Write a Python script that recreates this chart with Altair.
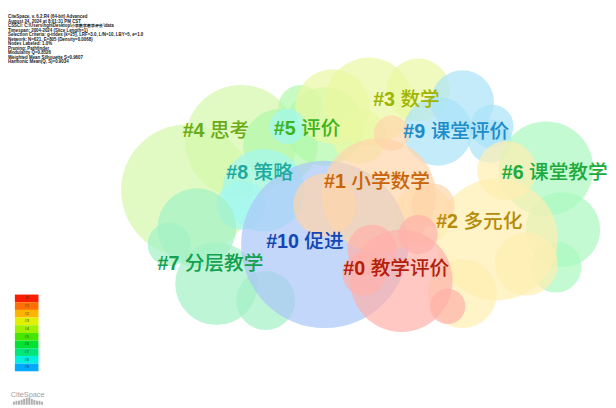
import altair as alt
import pandas as pd

# ---------------- data ----------------
cluster_ids = ["#0", "#1", "#2", "#3", "#4", "#5", "#6", "#7", "#8", "#9", "#10"]
cluster_names = ["教学评价", "小学数学", "多元化", "数学", "思考", "评价",
                 "课堂教学", "分层教学", "策略", "课堂评价", "促进"]
label_x = [370.7, 351, 465, 401, 207.3, 300, 531.7, 181.7, 251.7, 431.7, 303.3]
label_y = [270, 182, 222, 98, 130, 128, 173, 265, 173, 131, 243]

label_palette = ["#b41e0a", "#c8640a", "#b48c0a", "#a0b400", "#6aaa14", "#3cb41e",
                 "#1eaa3c", "#14a050", "#1eaaa0", "#1e8cc8", "#1446b4"]
fill_palette = ["#ffb0a9", "#ffd4a9", "#ffeeb0", "#eaf8a2", "#d4f8a9", "#b0f8a9",
                "#a9f8bf", "#a2f1c6", "#a2f8f1", "#a9e2f8", "#a9c6f8"]

# cloud blobs of each cluster (centre x, centre y, radius)
blob_cluster = ["#4", "#4",
                "#5", "#5", "#5",
                "#3", "#3", "#3", "#3",
                "#9", "#9", "#9", "#9",
                "#6", "#6", "#6",
                "#2", "#2", "#2", "#2", "#2",
                "#8", "#8", "#8",
                "#7", "#7", "#7", "#7",
                "#10",
                "#1", "#1", "#1", "#1",
                "#0", "#0", "#0", "#0", "#0"]
blob_x = [190, 245,
          285, 330, 305,
          375, 425, 338, 365,
          470, 445, 498, 500,
          555, 572, 565,
          505, 470, 430, 535, 515,
          268, 292, 245,
          220, 200, 172, 270,
          330,
          385, 330, 398, 440,
          408, 378, 425, 455, 370]
blob_y = [190, 140,
          145, 125, 105,
          100, 88, 105, 135,
          100, 130, 140, 125,
          168, 230, 268,
          240, 295, 215, 265, 170,
          190, 125, 205,
          285, 228, 245, 302,
          245,
          195, 205, 132, 205,
          282, 250, 235, 308, 275]
blob_r = [67, 57,
          38, 40, 22,
          45, 32, 38, 28,
          32, 35, 22, 22,
          48, 38, 26,
          62, 35, 30, 32, 30,
          42, 18, 25,
          42, 40, 22, 30,
          85,
          58, 32, 18, 22,
          52, 25, 20, 18, 22]

info_lines = [
    "CiteSpace, v. 6.2.R4 (64-bit) Advanced",
    "August 24, 2024 at 8:01:31 PM CST",
    r"CSSCI: C:\Users\hgh\Desktop\小学数学教学评价\data",
    "Timespan: 2004-2024 (Slice Length=1)",
    "Selection Criteria: g-index (k=25), LRF=3.0, L/N=10, LBY=5, e=1.0",
    "Network: N=621, E=805 (Density=0.0068)",
    "Nodes Labeled: 1.0%",
    "Pruning: Pathfinder",
    "Modularity Q=0.8526",
    "Weighted Mean Silhouette S=0.9607",
    "Harmonic Mean(Q, S)=0.9034",
]

legend_labels = ["#0", "#1", "#2", "#3", "#4", "#5", "#6", "#7", "#8", "#9"]
legend_palette = ["#fa1e00", "#ff6e00", "#ffb400", "#e0f000", "#a0f000",
                  "#46e600", "#00e132", "#00e678", "#00f0e0", "#00aaff"]

logo_bar_h = [1, 2, 2, 3, 4, 5, 5, 4, 3, 2, 2, 1]

# ---------------- chart ----------------
xs = alt.Scale(domain=[8, 616], nice=False, zero=False)
ys = alt.Scale(domain=[8, 408], nice=False, zero=False, reverse=True)
noax = None

blobs = pd.DataFrame({"cluster": blob_cluster, "x": blob_x, "y": blob_y, "r": blob_r})
blob_layer = alt.Chart(blobs).transform_calculate(
    s="4*datum.r*datum.r"
).mark_circle(opacity=0.7, strokeWidth=0).encode(
    x=alt.X("x:Q", scale=xs, axis=noax),
    y=alt.Y("y:Q", scale=ys, axis=noax),
    size=alt.Size("s:Q", scale=None, legend=None),
    color=alt.Color("cluster:N", scale=alt.Scale(domain=cluster_ids, range=fill_palette), legend=None),
)

labels = pd.DataFrame({"cid": cluster_ids, "name": cluster_names, "x": label_x, "y": label_y})
prefix_layer = alt.Chart(labels).mark_text(
    align="right", baseline="middle", fontSize=20, font="Liberation Sans", fontWeight="bold", dx=0.5
).encode(
    x=alt.X("x:Q", scale=xs, axis=noax), y=alt.Y("y:Q", scale=ys, axis=noax),
    text="cid:N",
    fill=alt.Fill("cid:N", scale=alt.Scale(domain=cluster_ids, range=label_palette), legend=None),
)
name_layer = alt.Chart(labels).mark_text(
    align="left", baseline="middle", fontSize=20, font="Noto Sans CJK SC", fontWeight=500, dx=6
).encode(
    x=alt.X("x:Q", scale=xs, axis=noax), y=alt.Y("y:Q", scale=ys, axis=noax),
    text="name:N",
    fill=alt.Fill("cid:N", scale=alt.Scale(domain=cluster_ids, range=label_palette), legend=None),
)
text_layers = alt.layer(prefix_layer, name_layer)

info = pd.DataFrame({"line": info_lines, "i": list(range(len(info_lines)))})
info_layer = alt.Chart(info).transform_calculate(
    x="8", y="14 + datum.i*4.6"
).mark_text(
    align="left", baseline="middle", fontSize=4.5, font="Liberation Sans", fontWeight="bold", color="#1a1a1a"
).encode(
    x=alt.X("x:Q", scale=xs, axis=noax), y=alt.Y("y:Q", scale=ys, axis=noax), text="line:N"
)

leg = pd.DataFrame({"lab": legend_labels, "i": list(range(len(legend_labels)))})
leg_rect = alt.Chart(leg).transform_calculate(
    x="15", x2="39", y="296 + datum.i*7.8", y2="296 + (datum.i+1)*7.8"
).mark_rect(strokeWidth=0).encode(
    x=alt.X("x:Q", scale=xs, axis=noax), x2="x2:Q",
    y=alt.Y("y:Q", scale=ys, axis=noax), y2="y2:Q",
    stroke=alt.Stroke("lab:N", scale=alt.Scale(domain=legend_labels, range=legend_palette), legend=None),
    fill=alt.value("white"),
)
leg_rect = alt.Chart(leg).transform_calculate(
    x="15", x2="39", y="296 + datum.i*7.8", y2="296 + (datum.i+1)*7.8"
).mark_rect(strokeWidth=0).encode(
    x=alt.X("x:Q", scale=xs, axis=noax), x2="x2:Q",
    y=alt.Y("y:Q", scale=ys, axis=noax), y2="y2:Q",
    color=alt.Color("lab:N", scale=alt.Scale(domain=legend_labels, range=legend_palette), legend=None),
)
leg_text = alt.Chart(leg).transform_calculate(
    x="27", y="296 + (datum.i+0.5)*7.8"
).mark_text(fontSize=4, font="Liberation Sans", color="#333333", baseline="middle").encode(
    x=alt.X("x:Q", scale=xs, axis=noax), y=alt.Y("y:Q", scale=ys, axis=noax), text="lab:N"
)

logo = pd.DataFrame({"t": ["CiteSpace"]})
logo_text = alt.Chart(logo).transform_calculate(x="28", y="398").mark_text(
    fontSize=7.5, font="Liberation Sans", color="#a0a0a0", baseline="middle"
).encode(x=alt.X("x:Q", scale=xs, axis=noax), y=alt.Y("y:Q", scale=ys, axis=noax), text="t:N")

bars = pd.DataFrame({"h": logo_bar_h, "i": list(range(len(logo_bar_h)))})
logo_bars = alt.Chart(bars).transform_calculate(
    x="13 + datum.i*2.6", x2="13 + datum.i*2.6 + 2", y="408 - datum.h - 2", y2="408"
).mark_rect(color="#b0b0b0").encode(
    x=alt.X("x:Q", scale=xs, axis=noax), x2="x2:Q",
    y=alt.Y("y:Q", scale=ys, axis=noax), y2="y2:Q",
)

chart = alt.layer(
    blob_layer, prefix_layer, name_layer, info_layer, leg_rect, leg_text, logo_text, logo_bars
).resolve_scale(color="independent", fill="independent").properties(
    width=608, height=400, padding=0, background="white"
).configure_view(stroke=None)

chart.save("out.html", embed_options={"renderer": "svg", "actions": False})
